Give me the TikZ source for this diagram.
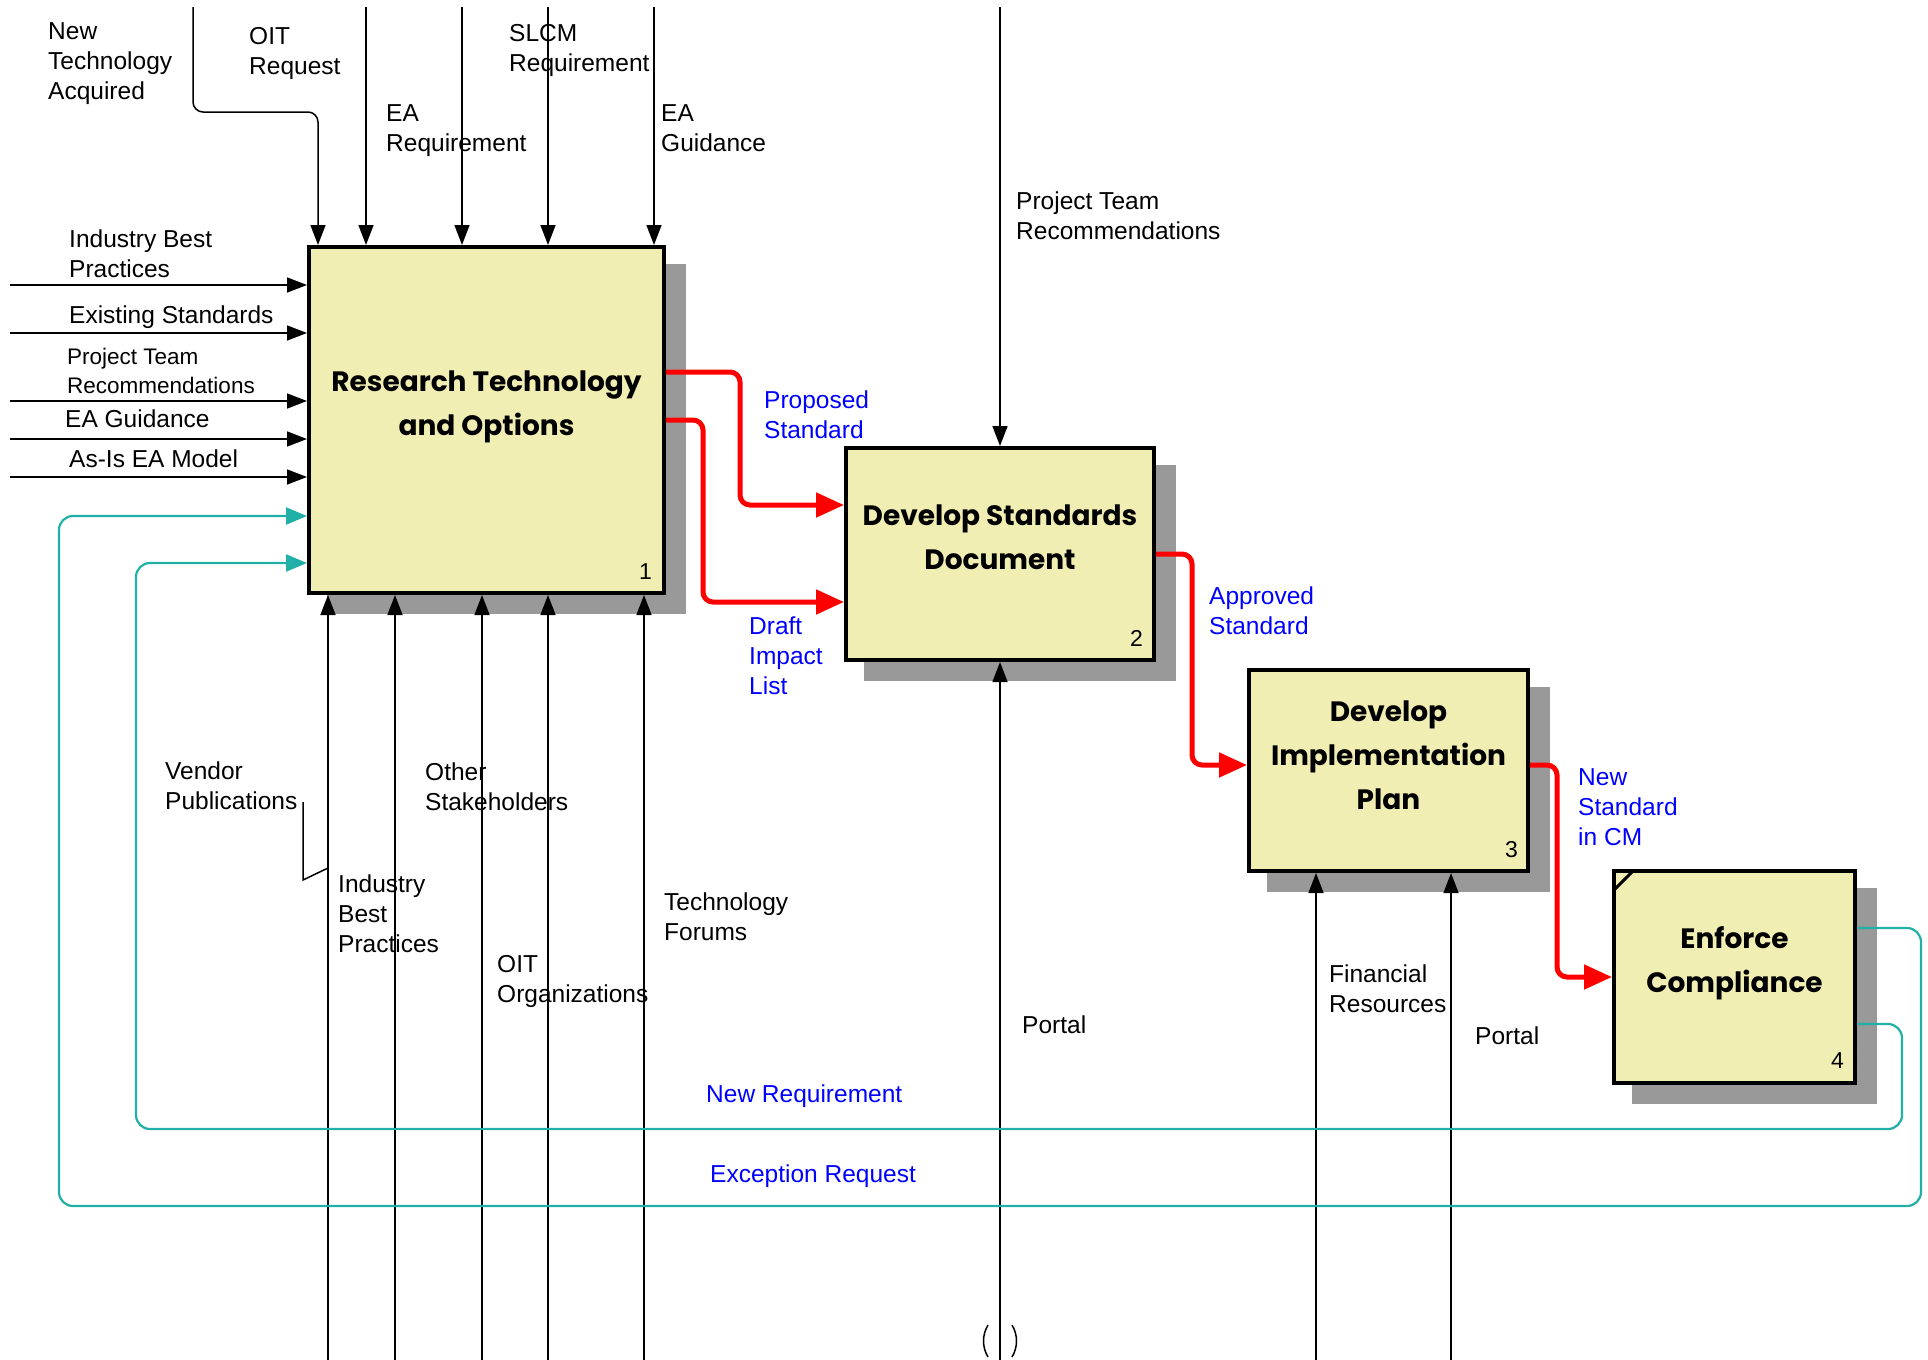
\documentclass[tikz,border=0pt]{standalone}
\usepackage{fontspec}
\setmainfont{Liberation Sans}
\newfontfamily\titlefont{Poppins}
\usetikzlibrary{arrows.meta,backgrounds,calc}
\definecolor{boxfill}{RGB}{240,238,178}
\definecolor{loopc}{RGB}{32,176,168}
\definecolor{lblblue}{RGB}{0,0,255}
\definecolor{flowred}{RGB}{255,0,0}
\begin{document}
\begin{tikzpicture}[x=1pt,y=-1pt,
  lbl/.style={anchor=north west,inner sep=0pt,align=left,font=\fontsize{24.5}{30}\selectfont},
  slbl/.style={anchor=north west,inner sep=0pt,align=left,font=\fontsize{22.5}{29}\selectfont},
  blbl/.style={lbl,text=lblblue},
  proc/.style={draw=black,line width=4pt,fill=boxfill,inner sep=0pt},
  ttl/.style={align=center,inner sep=0pt,font=\titlefont\bfseries\fontsize{28}{44}\selectfont},
  num/.style={anchor=base east,inner sep=0pt,font=\fontsize{23}{26}\selectfont},
  shd/.style={fill=black!40},
  ctl/.style={draw=black,line width=1.5pt,-{Triangle[length=20pt,width=15pt]}},
  plain/.style={draw=black,line width=1.5pt},
  redarr/.style={draw=flowred,line width=5pt,rounded corners=10pt,-{Triangle[length=28pt,width=24pt]}},
  looparr/.style={draw=loopc,line width=2.2pt,rounded corners=14pt,-{Triangle[length=21pt,width=17pt]}}
]
\useasboundingbox (0,0) rectangle (1928,1360);

% boxes
\node[proc,minimum width=355pt,minimum height=346pt] (b1) at (486.5,420) {};
\node[proc,minimum width=308pt,minimum height=212pt] (b2) at (1000,554) {};
\node[proc,minimum width=279pt,minimum height=201pt] (b3) at (1388.5,770.5) {};
\node[proc,minimum width=241pt,minimum height=212pt] (b4) at (1734.5,977) {};

\begin{scope}[on background layer]
  \foreach \b in {b1,b2,b3,b4}{
    \fill[shd] ([shift={(20pt,-19pt)}]\b.south west) rectangle ([shift={(20pt,-19pt)}]\b.north east);
  }
\end{scope}

\node[ttl] (t1) at ([yshift=13pt]b1.center) {Research Technology\\and Options};
\node[ttl] (t2) at ([yshift=17pt]b2.center) {Develop Standards\\Document};
\node[ttl] (t3) at ([yshift=15pt]b3.center) {Develop\\Implementation\\Plan};
\node[ttl] (t4) at ([yshift=14pt]b4.center) {Enforce\\Compliance};

\node[num] (n1) at ([shift={(-14pt,16pt)}]b1.south east) {1};
\node[num] (n2) at ([shift={(-13pt,16pt)}]b2.south east) {2};
\node[num] (n3) at ([shift={(-12pt,16pt)}]b3.south east) {3};
\node[num] (n4) at ([shift={(-13pt,17pt)}]b4.south east) {4};

\draw[line width=3pt] ([shift={(2pt,-21pt)}]b4.north west) -- ([shift={(21pt,-2pt)}]b4.north west);

% controls into box 1
\coordinate (c0) at (193,7);
\coordinate (c0k) at (318,112);
\draw[ctl,rounded corners=10pt] (c0) |- (c0k) -- (c0k |- b1.north);
\coordinate (c1) at (366,7);
\coordinate (c2) at (462,7);
\coordinate (c3) at (548,7);
\coordinate (c4) at (654,7);
\foreach \c in {c1,c2,c3,c4}{ \draw[ctl] (\c) -- (\c |- b1.north); }

% inputs into box 1
\coordinate (i1) at (10,285);
\coordinate (i2) at (10,333);
\coordinate (i3) at (10,401);
\coordinate (i4) at (10,439);
\coordinate (i5) at (10,477);
\foreach \c in {i1,i2,i3,i4,i5}{ \draw[ctl] (\c) -- (\c -| b1.west); }

% mechanisms into box 1
\coordinate (m1) at (328,1360);
\coordinate (m2) at (395,1360);
\coordinate (m3) at (482,1360);
\coordinate (m4) at (548,1360);
\coordinate (m5) at (644,1360);
\foreach \c in {m1,m2,m3,m4,m5}{ \draw[ctl] (\c) -- (\c |- b1.south); }

% squiggle
\coordinate (sq1) at (303,802);
\coordinate (sq2) at (303,880);
\coordinate (sq3) at (328,868);
\draw[plain] (sq1) -- (sq2) -- (sq3);

% box 2 control and mechanism
\coordinate (c5) at (1000,7);
\draw[ctl] (c5) -- (c5 |- b2.north);
\coordinate (m6) at (1000,1360);
\draw[ctl] (m6) -- (m6 |- b2.south);
\draw[plain] (988,1325) .. controls (982,1335) and (982,1347) .. (988,1357);
\draw[plain] (1012,1325) .. controls (1018,1335) and (1018,1347) .. (1012,1357);

% box 3 mechanisms
\coordinate (m7) at (1316,1360);
\coordinate (m8) at (1451,1360);
\foreach \c in {m7,m8}{ \draw[ctl] (\c) -- (\c |- b3.south); }

% red outputs
\draw[redarr] (b1.east |- 0,372) -| (740,505) -- (b2.west |- 0,505);
\draw[redarr] (b1.east) -| (703,602) -- (b2.west |- 0,602);
\draw[redarr] (b2.east) -| (1192,765) -- (b3.west |- 0,765);
\draw[redarr] (b3.east |- 0,765) -| (1557,977) -- (b4.west);

% feedback loops
\draw[looparr] (b4.east |- 0,928) -| (1921,1206) -| (59,516) -- (b1.west |- 0,516);
\draw[looparr] (b4.east |- 0,1024) -| (1902,1129) -| (136,563) -- (b1.west |- 0,563);

% labels
\node[lbl] (l1) at (48,22) {New\\Technology\\Acquired};
\node[lbl] (l2) at (249,27) {OIT\\Request};
\node[lbl] (l3) at (386,104) {EA\\Requirement};
\node[lbl] (l4) at (509,24) {SLCM\\Requirement};
\node[lbl] (l5) at (661,104) {EA\\Guidance};
\node[lbl] (l6) at (69,230) {Industry Best\\Practices};
\node[lbl] (l7) at (69,306) {Existing Standards};
\node[slbl] (l8) at (67,348) {Project Team\\Recommendations};
\node[lbl] (l9) at (65,410) {EA Guidance};
\node[lbl] (l10) at (69,450) {As-Is EA Model};
\node[lbl] (l11) at (1016,192) {Project Team\\Recommendations};
\node[blbl] (l12) at (764,391) {Proposed\\Standard};
\node[blbl] (l13) at (749,617) {Draft\\Impact\\List};
\node[blbl] (l14) at (1209,587) {Approved\\Standard};
\node[blbl] (l15) at (1578,768) {New\\Standard\\in CM};
\node[lbl] (l16) at (165,762) {Vendor\\Publications};
\node[lbl] (l17) at (338,875) {Industry\\Best\\Practices};
\node[lbl] (l18) at (425,763) {Other\\Stakeholders};
\node[lbl] (l19) at (497,955) {OIT\\Organizations};
\node[lbl] (l20) at (664,893) {Technology\\Forums};
\node[lbl] (l21) at (1022,1016) {Portal};
\node[lbl] (l22) at (1329,965) {Financial\\Resources};
\node[lbl] (l23) at (1475,1027) {Portal};
\node[blbl] (l24) at (706,1085) {New Requirement};
\node[blbl] (l25) at (710,1165) {Exception Request};
\end{tikzpicture}
\end{document}
